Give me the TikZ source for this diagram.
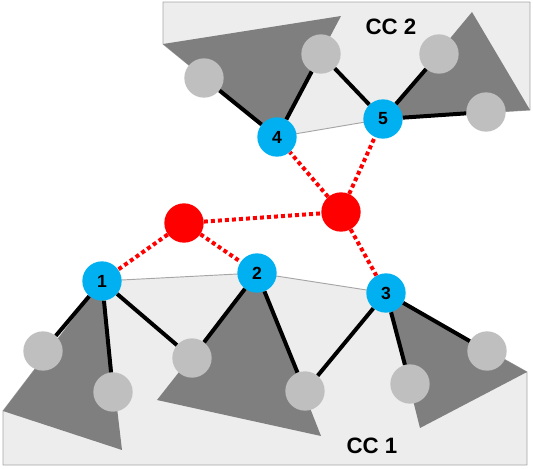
\documentclass[tikz,border=0pt]{standalone}
\usepackage{fontspec}
\setmainfont{Liberation Sans}
\usetikzlibrary{backgrounds}
\definecolor{ccblue}{HTML}{00B0F0}
\definecolor{ccred}{HTML}{FF0000}
\definecolor{ccgray}{HTML}{BFBFBF}
\definecolor{ccdark}{HTML}{7F7F7F}
\definecolor{cclight}{HTML}{EDEDED}
\definecolor{ccline}{HTML}{A6A6A6}

\begin{document}
\begin{tikzpicture}[
            x=0.03cm, y=-0.03cm,
            site/.style={circle, fill=ccblue, minimum size=1.18cm, inner sep=0pt, font=\fontsize{15}{15}\selectfont\bfseries},
            atom/.style={circle, fill=ccgray, minimum size=1.18cm, inner sep=0pt},
            guest/.style={circle, fill=ccred, minimum size=1.18cm, inner sep=0pt},
            bond/.style={line width=3.4pt, black},
            link/.style={line width=3.4pt, ccred, dash pattern=on 3.4pt off 2.6pt},
            region/.style={fill=cclight, draw=ccline, line width=0.8pt},
            block/.style={fill=ccdark},
            label/.style={font=\fontsize{19}{19}\selectfont\bfseries}
        ]
            \useasboundingbox (0,0) rectangle (533,468);

            % CC 1
            \node[site] (n1) at (102,281) {1};
            \node[site] (n2) at (257,273) {2};
            \node[site] (n3) at (386,293) {3};
            \node[atom] (g1) at (43,351) {};
            \node[atom] (g2) at (113,392) {};
            \node[atom] (g3) at (192,358) {};
            \node[atom] (g4) at (305,391) {};
            \node[atom] (g5) at (410,384) {};
            \node[atom] (g6) at (487,351) {};

            \draw[bond] (n1) -- (g1);
            \draw[bond] (n1) -- (g2);
            \draw[bond] (n1) -- (g3);
            \draw[bond] (n2) -- (g3);
            \draw[bond] (n2) -- (g4);
            \draw[bond] (n3) -- (g4);
            \draw[bond] (n3) -- (g5);
            \draw[bond] (n3) -- (g6);

            \node[label] (cc1) at (372,446) {CC 1};

            % CC 2
            \node[site] (n4) at (277,137) {4};
            \node[site] (n5) at (383,119) {5};
            \node[atom] (g7) at (204,78) {};
            \node[atom] (g8) at (321,54) {};
            \node[atom] (g9) at (439,54) {};
            \node[atom] (g10) at (486,112) {};

            \draw[bond] (n4) -- (g7);
            \draw[bond] (n4) -- (g8);
            \draw[bond] (n5) -- (g8);
            \draw[bond] (n5) -- (g9);
            \draw[bond] (n5) -- (g10);

            \node[label] (cc2) at (391,27) {CC 2};

            % guests
            \node[guest] (r1) at (184,223) {};
            \node[guest] (r2) at (341,212) {};

            \draw[link] (r1) -- (r2);
            \draw[link] (r1) -- (n1);
            \draw[link] (r1) -- (n2);
            \draw[link] (r2) -- (n3);
            \draw[link] (r2) -- (n4);
            \draw[link] (r2) -- (n5);

            \begin{scope}[on background layer]
                \draw[region] (n1.center) -- (n2.center) -- (n3.center) -- (527,372)
                    -- (527,465) -- (3,465) -- (3,411) -- cycle;
                \fill[block] (n1.center) -- (3,411) -- (122,450) -- cycle;
                \fill[block] (n2.center) -- (157,400) -- (321,436) -- cycle;
                \fill[block] (n3.center) -- (527,372) -- (420,428) -- cycle;

                \draw[region] (163,2) -- (530,2) -- (530,110) -- (n5.center)
                    -- (n4.center) -- (163,44) -- cycle;
                \fill[block] (163,44) -- (341,16) -- (n4.center) -- cycle;
                \fill[block] (472,12) -- (530,110) -- (n5.center) -- cycle;
            \end{scope}
        \end{tikzpicture}
\end{document}
